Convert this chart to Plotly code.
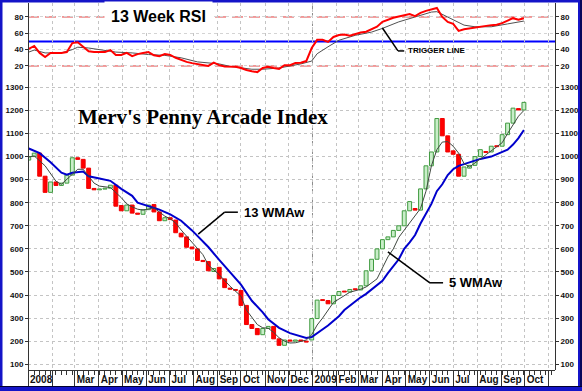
import plotly.graph_objects as go
import pandas as pd

# ---------------- data (weekly) ----------------
first_week = "2008-01-02"
opens = [985, 1000, 1015, 915, 845, 890, 875, 885, 920, 995,
         988, 950, 862, 856, 859, 863, 876, 788, 765, 790,
         755, 750, 770, 792, 760, 722, 735, 725, 668, 652,
         608, 600, 550, 545, 502, 520, 470, 430, 424, 420,
         355, 272, 255, 228, 255, 264, 210, 182, 205, 200,
         205, 200, 205, 298, 380, 376, 362, 398, 417, 413,
         427, 422, 440, 505, 555, 600, 640, 652, 680, 700,
         765, 775, 768, 860, 960, 1020, 1165, 1090, 1025, 1010,
         915, 950, 962, 1000, 1022, 1020, 1047, 1045, 1095, 1145,
         1208, 1202]
closes = [1000, 1015, 915, 845, 890, 875, 885, 920, 995, 988,
          950, 862, 856, 859, 863, 876, 785, 765, 790, 755,
          750, 770, 790, 760, 722, 735, 727, 670, 652, 607,
          600, 550, 545, 505, 515, 470, 432, 425, 420, 355,
          272, 255, 228, 255, 264, 210, 182, 205, 200, 205,
          200, 197, 298, 378, 376, 362, 398, 415, 413, 424,
          423, 440, 505, 555, 600, 640, 652, 680, 700, 765,
          805, 768, 860, 960, 1020, 1165, 1090, 1020, 1010, 915,
          955, 962, 1000, 1030, 1018, 1045, 1043, 1095, 1145, 1210,
          1202, 1235]

wma5_idx = [0, 1, 3, 5, 6, 8, 9, 10, 12, 13, 15, 17, 18, 19, 20, 21, 23, 24, 25, 26,
            27, 28, 30, 31, 32, 33, 35, 37, 39, 40, 42, 43, 44, 45, 46, 47, 48, 49, 50, 51,
            52, 53, 54, 55, 56, 59, 61, 62, 64, 66, 67, 68, 70, 72, 73, 74, 75, 76, 77, 78,
            79, 80, 81, 83, 85, 86, 87, 88, 89, 90, 91]
wma5_val = [998, 1003, 960, 893, 880, 925, 945, 945, 885, 872, 866, 822, 795, 782, 772, 768, 778, 760, 742, 730,
            712, 682, 630, 605, 575, 530, 488, 438, 395, 335, 272, 258, 256, 238, 215, 200, 192, 193, 198, 205,
            228, 270, 300, 335, 368, 412, 425, 435, 470, 565, 600, 650, 715, 775, 850, 960, 1030, 1063, 1065, 1045,
            1015, 970, 955, 990, 1022, 1042, 1060, 1100, 1140, 1175, 1200]

wma13_idx = [0, 2, 4, 6, 7, 8, 10, 11, 13, 15, 17, 19, 20, 22, 24, 26, 28, 30, 31, 33,
             35, 37, 39, 41, 43, 44, 46, 48, 50, 51, 52, 53, 54, 55, 57, 58, 61, 62, 65, 66,
             68, 69, 70, 71, 72, 74, 75, 76, 77, 78, 79, 80, 81, 83, 85, 88, 89, 90, 91]
wma13_val = [1035, 1015, 975, 930, 922, 930, 935, 915, 905, 895, 860, 830, 800, 785, 770, 750, 722, 680, 655, 608,
             552, 500, 445, 375, 325, 295, 258, 235, 222, 214, 218, 235, 255, 268, 308, 335, 390, 405, 462, 495,
             555, 600, 628, 660, 710, 795, 850, 880, 920, 945, 960, 968, 975, 990, 1000, 1030, 1052, 1080, 1115]

rsi_idx = list(range(0, 92))
rsi_val = [41, 44.5, 36, 31, 36, 36, 36, 37, 48, 49,
           43, 38, 37, 37, 37, 39.5, 33.5, 33.5, 36, 32,
           34.5, 36, 37, 33, 32, 34.5, 33.5, 30, 27, 25,
           23.5, 22.5, 21, 20, 24, 21, 19.5, 19.5, 19, 17.5,
           15, 13.5, 12.5, 17.5, 19, 17.5, 16.5, 21, 21, 23.5,
           24, 26, 42, 52, 52, 49.5, 55.5, 58, 58.5, 57,
           59, 61, 62, 65, 68, 74, 77, 79, 80.5, 82,
           83.5, 81, 85, 87.5, 89.5, 91, 80, 74, 71.5, 63,
           65, 66, 67.5, 68.5, 69.5, 70, 70.5, 72.5, 75.5, 78.5,
           76.5, 78.5]

trig_idx = [0, 1, 3, 6, 8, 9, 11, 14, 16, 19, 22, 25, 28, 31, 35, 37, 41, 43, 46, 48,
            50, 52, 53, 55, 57, 60, 63, 65, 68, 71, 74, 75, 77, 80, 82, 85, 88, 91]
trig_val = [37, 39.5, 36, 36, 40, 43, 42, 39.5, 37, 36, 34, 33, 30, 25, 22.5, 19.5, 16, 16, 17.5, 20,
            22.5, 26, 35, 43.5, 51.5, 57.5, 61.5, 66, 74, 80, 86, 86.5, 80, 70, 68, 68, 71.5, 75]

month_ticks = pd.date_range("2008-01-01", "2009-11-01", freq="MS")
month_labels = ["2008", "", "Mar", "Apr", "May", "Jun", "Jul", "Aug", "Sep", "Oct", "Nov", "Dec",
                "2009", "Feb", "Mar", "Apr", "May", "Jun", "Jul", "Aug", "Sep", "Oct", ""]

main_ticks = list(range(100, 1400, 100))
rsi_ticks = [20, 40, 60, 80]
rsi_levels = {"upper": 80, "trigger": 50, "lower": 20}

# ---------------- figure ----------------
dates = pd.date_range(first_week, periods=len(opens), freq="7D")
DAY = 86400000
up = [i for i in range(len(opens)) if closes[i] >= opens[i]]
dn = [i for i in range(len(opens)) if closes[i] < opens[i]]

SANS = "Liberation Sans, Arial, sans-serif"
fig = go.Figure()

fig.add_trace(go.Bar(
    x=[dates[i] for i in up], base=[opens[i] for i in up],
    y=[closes[i] - opens[i] if closes[i] - opens[i] >= 4 else 4 for i in up],
    width=5.0 * DAY, marker=dict(color="#c9eec9", line=dict(color="#3f9a3f", width=1)),
    hoverinfo="skip"))
fig.add_trace(go.Bar(
    x=[dates[i] for i in dn], base=[opens[i] for i in dn],
    y=[closes[i] - opens[i] if closes[i] - opens[i] <= -4 else -4 for i in dn],
    width=5.0 * DAY, marker=dict(color="#ff0000", line=dict(color="#f00000", width=1)),
    hoverinfo="skip"))

fig.add_trace(go.Scatter(x=[dates[i] for i in wma13_idx], y=wma13_val, mode="lines",
                         line=dict(color="#0000cc", width=2), hoverinfo="skip"))
fig.add_trace(go.Scatter(x=[dates[i] for i in wma5_idx], y=wma5_val, mode="lines",
                         line=dict(color="#404840", width=1), hoverinfo="skip"))

fig.add_trace(go.Scatter(x=[dates[i] for i in trig_idx], y=trig_val, mode="lines", yaxis="y2",
                         line=dict(color="#505050", width=1), hoverinfo="skip"))
fig.add_trace(go.Scatter(x=[dates[i] for i in rsi_idx], y=rsi_val, mode="lines", yaxis="y2",
                         line=dict(color="#ff0000", width=2), hoverinfo="skip"))

# invisible traces so the right-hand axes are drawn
fig.add_trace(go.Scatter(x=[dates[0]], y=[main_ticks[1]], yaxis="y3", mode="markers",
                         marker=dict(opacity=0), hoverinfo="skip"))
fig.add_trace(go.Scatter(x=[dates[0]], y=[rsi_ticks[0]], yaxis="y4", mode="markers",
                         marker=dict(opacity=0), hoverinfo="skip"))

split = 293 / 367
main_range = [75, 1345]
rsi_range = [6.5, 97.1]
tickfont = dict(family=SANS, size=8, color="#111111", weight="bold")
ycommon = dict(ticks="outside", ticklen=3, tickcolor="#333", showline=True, linecolor="#333",
               linewidth=1, tickfont=tickfont, zeroline=False, fixedrange=True, automargin=False,
               ticklabeloverflow="allow")

fig.update_layout(
    width=582, height=391, margin=dict(l=28, r=27, t=3, b=21, autoexpand=False),
    plot_bgcolor="white", paper_bgcolor="white", showlegend=False, barmode="overlay",
    xaxis=dict(type="date", range=["2008-01-01", "2009-11-09"], anchor="y", automargin=False,
               tickmode="array", tickvals=month_ticks, ticktext=month_labels, tickangle=0,
               ticks="outside", ticklen=15, tickcolor="#333", tickwidth=1,
               ticklabelposition="outside right", ticklabelstandoff=0, ticklabelshift=1,
               ticklabeloverflow="allow",
               tickfont=dict(family=SANS, size=10, color="#111111", weight="bold"),
               showgrid=True, gridcolor="#c4c4c4", griddash="dot", gridwidth=1,
               showline=True, linecolor="#333", zeroline=False, fixedrange=True,
               minor=dict(tickmode="linear", tick0=first_week, dtick=7 * DAY, ticks="outside",
                          ticklen=4, tickcolor="#333", showgrid=False)),
    yaxis=dict(domain=[0, split], range=main_range, tickmode="array", tickvals=main_ticks,
               side="left", anchor="free", position=0,
               showgrid=True, gridcolor="#c4c4c4", griddash="dot", **ycommon),
    yaxis2=dict(domain=[split, 1], range=rsi_range, tickmode="array", tickvals=rsi_ticks,
                side="left", anchor="free", position=0,
                showgrid=True, gridcolor="#d4d4d4", griddash="dot", **ycommon),
    yaxis3=dict(overlaying="y", range=main_range, tickmode="array", tickvals=main_ticks,
                side="right", anchor="free", position=1, showgrid=False, **ycommon),
    yaxis4=dict(overlaying="y2", range=rsi_range, tickmode="array", tickvals=rsi_ticks,
                side="right", anchor="free", position=1, showgrid=False, **ycommon),
)

shapes = []
# RSI reference levels
for key, lvl in rsi_levels.items():
    if key == "trigger":
        shapes.append(dict(type="line", xref="paper", yref="y2", x0=0, x1=1, y0=lvl, y1=lvl,
                           line=dict(color="#0000ff", width=2), layer="below"))
    else:
        shapes.append(dict(type="line", xref="paper", yref="y2", x0=0, x1=1, y0=lvl, y1=lvl,
                           line=dict(color="#e23a3a", width=1, dash="11px,6px"), layer="below"))
# year separator
shapes.append(dict(type="line", xref="x", yref="paper", x0="2009-01-01", x1="2009-01-01", y0=0, y1=1,
                   line=dict(color="#8c8c8c", width=1, dash="5px,3px"), layer="below"))
# leader lines
def seg(x0, y0, x1, y1, yref="y"):
    return dict(type="line", xref="x", yref=yref, x0=x0, y0=y0, x1=x1, y1=y1,
                line=dict(color="#000000", width=1.5))
shapes += [seg("2008-08-07", 664, "2008-09-10", 759), seg("2008-09-10", 759, "2008-09-27", 759),
           seg("2009-04-08", 587, "2009-06-01", 453), seg("2009-06-01", 453, "2009-06-18", 453),
           seg("2009-04-01", 66.5, "2009-04-21", 38.4, "y2"), seg("2009-04-21", 38.4, "2009-04-29", 38.4, "y2")]

# blue frame around the picture
W, H = 527.0, 367.0
def px(v):
    return (v - 28) / W
def py(v):
    return (370 - v) / H
frame_blue = "#1414c8"
shapes += [
    dict(type="rect", xref="paper", yref="paper", x0=px(0), x1=px(2.5), y0=py(391), y1=py(0),
         fillcolor=frame_blue, line=dict(width=0)),
    dict(type="rect", xref="paper", yref="paper", x0=px(0), x1=px(582), y0=py(2.5), y1=py(0),
         fillcolor=frame_blue, line=dict(width=0)),
    dict(type="rect", xref="paper", yref="paper", x0=px(578), x1=px(582), y0=py(391), y1=py(0),
         fillcolor=frame_blue, line=dict(width=0)),
    dict(type="rect", xref="paper", yref="paper", x0=px(580), x1=px(582), y0=py(391), y1=py(0),
         fillcolor="#06065a", line=dict(width=0)),
    dict(type="rect", xref="paper", yref="paper", x0=px(0), x1=px(582), y0=py(391), y1=py(386.5),
         fillcolor=frame_blue, line=dict(width=0)),
    dict(type="line", xref="paper", yref="paper", x0=px(0), x1=px(582), y0=py(386.5), y1=py(386.5),
         line=dict(color="#000030", width=1)),
]
fig.update_layout(shapes=shapes)

fig.add_annotation(x="2008-08-13", y=1173, xref="x", yref="y", text="Merv's Penny Arcade Index",
                   showarrow=False, font=dict(family="Liberation Serif, Times New Roman, serif",
                                              size=21, color="#000000", weight="bold"))
fig.add_annotation(x="2008-06-17", y=80, xref="x", yref="y2", text="13 Week RSI", showarrow=False,
                   bgcolor="#ffffff", borderpad=6,
                   font=dict(family=SANS, size=16, color="#000000", weight="bold"))
fig.add_annotation(x="2009-05-01", y=38.4, xref="x", yref="y2", text="TRIGGER LINE", showarrow=False,
                   xanchor="left", font=dict(family=SANS, size=8, color="#000000", weight="bold"))
fig.add_annotation(x="2008-10-02", y=759, xref="x", yref="y", text="13 WMAw", showarrow=False,
                   xanchor="left", font=dict(family=SANS, size=13, color="#000000", weight="bold"))
fig.add_annotation(x="2009-06-23", y=453, xref="x", yref="y", text="5 WMAw", showarrow=False,
                   xanchor="left", font=dict(family=SANS, size=13, color="#000000", weight="bold"))

fig.write_html("out.html", config={"displayModeBar": False},
               post_script="document.body.style.margin='0';document.body.style.overflow='hidden';")
